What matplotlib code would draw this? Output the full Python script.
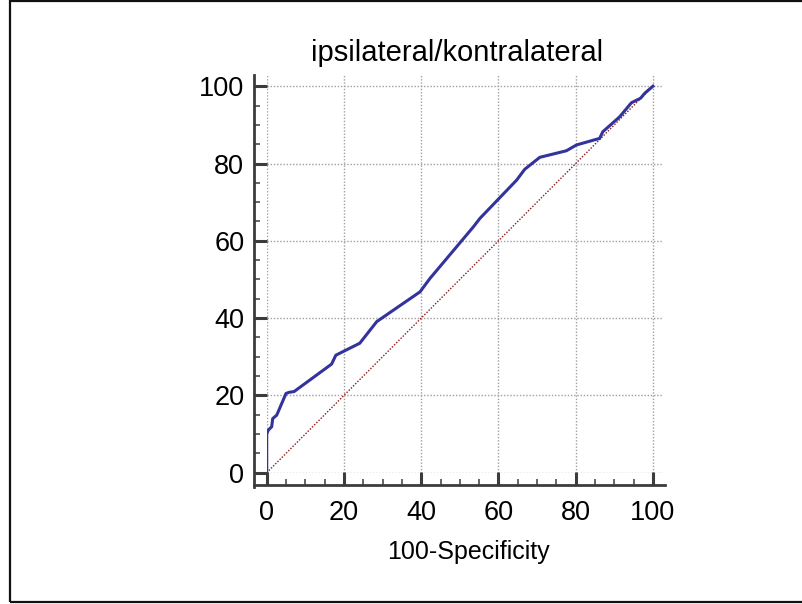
import matplotlib
matplotlib.use("Agg")
import matplotlib.pyplot as plt
from matplotlib.patches import Rectangle
from matplotlib.ticker import MultipleLocator

plt.rcParams['font.family'] = ['Liberation Sans', 'DejaVu Sans']

# ROC curve points (100-Specificity, Sensitivity)
fpr = [0, 0, 0.4, 1.3, 1.55, 2.6, 5.0, 5.8, 7.1, 16.8, 17.9, 24.1, 28.5, 39.7,
       42.3, 53.5, 55.2, 64.7, 66.8, 70.7, 77.6, 80.2, 86.2, 87.0, 91.4, 94.4,
       96.8, 97.9, 99.4, 100]
tpr = [0, 10, 11, 11.9, 14, 14.9, 20.5, 20.8, 21, 28.1, 30.4, 33.5, 39.1, 46.8,
       50.3, 63.6, 65.8, 75.7, 78.5, 81.6, 83.3, 84.8, 86.5, 88.2, 92.1, 95.7,
       96.9, 98.2, 99.5, 100]
diag = [0, 100]
ticks = [0, 20, 40, 60, 80, 100]

fig = plt.figure(figsize=(8.03, 6.04), dpi=100)

# outer frame
fig.patches.append(Rectangle((10.5 / 803, 2 / 604), 1.0, 601 / 604, transform=fig.transFigure,
                             fill=False, ec='#111111', lw=1.6))

ax = fig.add_axes([266.7 / 803, 1 - 472.7 / 604, (663 - 266.7) / 803, (472.7 - 75) / 604])

ax.plot(diag, diag, color='#8b1a1a', lw=1.0, ls=(0, (1, 1.2)), zorder=2)
ax.plot(fpr, tpr, color='#33339b', lw=2.2, zorder=3, solid_joinstyle='round')

ax.set_xlim(0, 102.6)
ax.set_ylim(0, 102.9)
ax.set_xticks(ticks)
ax.set_yticks(ticks)
ax.xaxis.set_minor_locator(MultipleLocator(5))
ax.yaxis.set_minor_locator(MultipleLocator(5))

ax.grid(True, which='major', color='#a0a0a0', lw=1.0, ls=(0, (1, 1.3)))
ax.set_axisbelow(True)

for s in ['top', 'right']:
    ax.spines[s].set_visible(False)
for s in ['left', 'bottom']:
    ax.spines[s].set_position(('outward', 9.1))
    ax.spines[s].set_linewidth(2.0)
    ax.spines[s].set_color('#3c3c3c')
ax.spines['left'].set_bounds(-3.6, 102.9)
ax.spines['bottom'].set_bounds(-3.3, 103.0)

ax.tick_params(which='major', direction='in', length=9.1, width=2.2, color='#3c3c3c',
               labelsize=19.5)
ax.tick_params(which='minor', direction='in', length=4.5, width=1.1, color='#3c3c3c')
ax.tick_params(axis='x', which='major', pad=10.5)
ax.tick_params(axis='y', which='major', pad=7)

fig.text(457 / 803, 1 - 53 / 604, 'ipsilateral/kontralateral', ha='center', va='center',
         fontsize=21)
fig.text(468 / 803, 1 - 552 / 604, '100-Specificity', ha='center', va='center',
         fontsize=18)

fig.savefig('out.png', dpi=100)
